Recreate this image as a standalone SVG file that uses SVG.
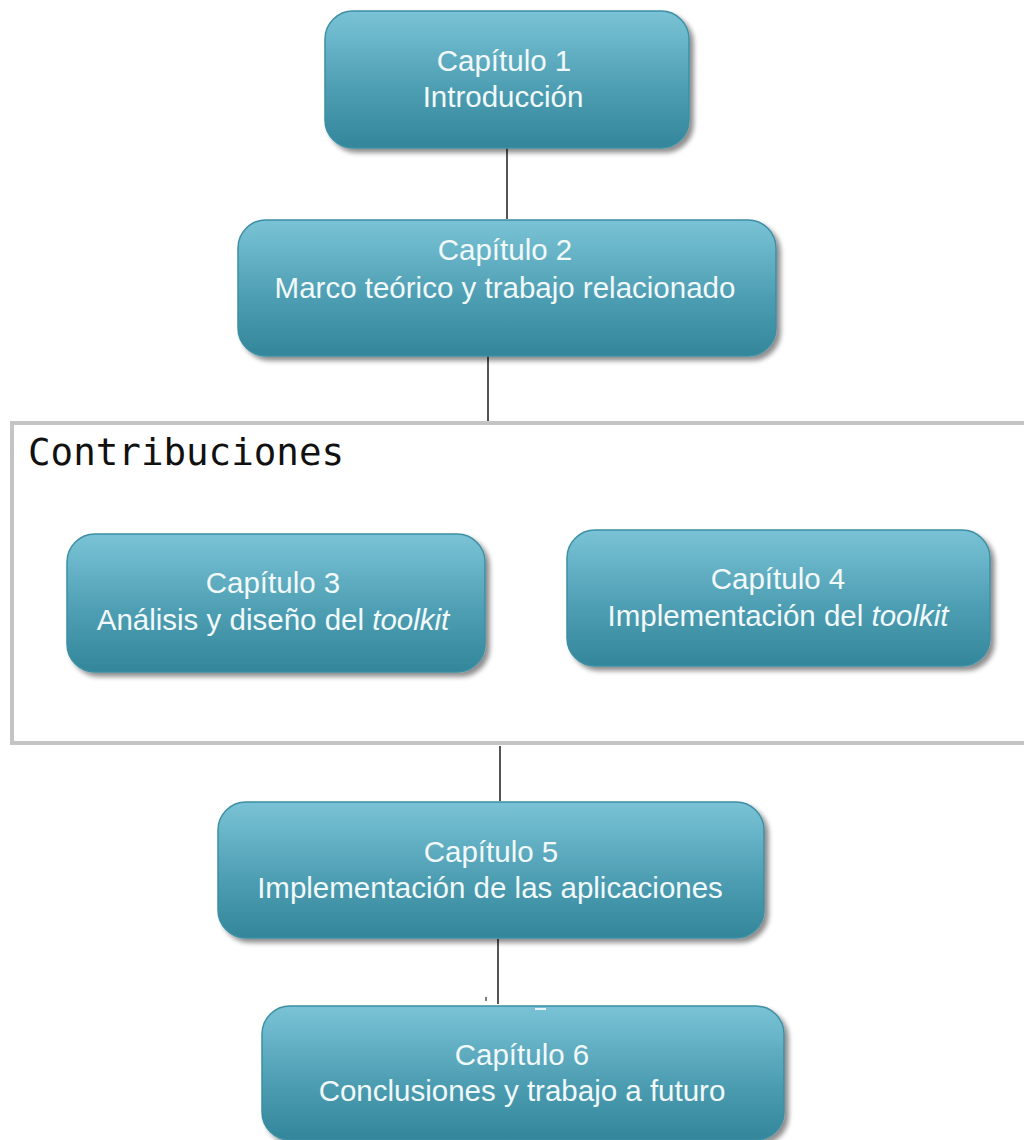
<svg xmlns="http://www.w3.org/2000/svg" width="1024" height="1140" viewBox="0 0 1024 1140">
  <defs>
    <linearGradient id="boxFill" x1="0" y1="0" x2="0" y2="1">
      <stop offset="0" stop-color="#7ac3d6"/>
      <stop offset="0.55" stop-color="#4f9fb4"/>
      <stop offset="1" stop-color="#33869a"/>
    </linearGradient>
    <filter id="shadow" x="-5%" y="-10%" width="115%" height="130%">
      <feGaussianBlur in="SourceAlpha" stdDeviation="2.5"/>
      <feOffset dx="4" dy="4" result="blur"/>
      <feComponentTransfer><feFuncA type="linear" slope="0.45"/></feComponentTransfer>
      <feMerge><feMergeNode/><feMergeNode in="SourceGraphic"/></feMerge>
    </filter>
  </defs>
  <style>
    .box { fill: url(#boxFill); stroke: #3d8fa4; stroke-width: 1.5; filter: url(#shadow); }
    .lbl { font-family: "Liberation Sans", Arial, sans-serif; font-size: 29.5px; fill: #f2f9fa; text-anchor: middle; }
    .it { font-style: italic; }
    .conn { stroke: #555555; stroke-width: 2; fill: none; }
    .frame { fill: none; stroke: #c4c4c4; stroke-width: 4; }
    .title { font-family: "DejaVu Sans Mono", "Liberation Mono", monospace; font-size: 37.5px; fill: #111111; }
  </style>

  <rect width="1024" height="1140" fill="#ffffff"/>

  <!-- connectors between chapters -->
  <g id="connectors">
    <line class="conn" x1="507" y1="148" x2="507" y2="219"/>
    <line class="conn" x1="488" y1="356" x2="488" y2="421"/>
    <line class="conn" x1="500" y1="746" x2="500" y2="801"/>
    <line class="conn" x1="498" y1="939" x2="498" y2="1004"/>
    <line stroke="#555555" stroke-width="1.5" x1="486" y1="997" x2="486" y2="1001"/>
  </g>

  <!-- contributions frame -->
  <g id="contribuciones">
    <rect class="frame" x="12" y="423" width="1030" height="320"/>
    <text class="title" x="28" y="465">Contribuciones</text>
  </g>

  <g id="cap1">
    <rect class="box" x="325" y="11" width="364" height="137" rx="28"/>
    <text class="lbl" x="504" y="71">Capítulo 1</text>
    <text class="lbl" x="503" y="107">Introducción</text>
  </g>

  <g id="cap2">
    <rect class="box" x="238" y="220" width="538" height="136" rx="28"/>
    <text class="lbl" x="505" y="260">Capítulo 2</text>
    <text class="lbl" x="505" y="298">Marco teórico y trabajo relacionado</text>
  </g>

  <g id="cap3">
    <rect class="box" x="67" y="534" width="418" height="138" rx="28"/>
    <text class="lbl" x="273" y="593">Capítulo 3</text>
    <text class="lbl" x="273" y="630">Análisis y diseño del <tspan class="it">toolkit</tspan></text>
  </g>

  <g id="cap4">
    <rect class="box" x="567" y="530" width="423" height="136" rx="28"/>
    <text class="lbl" x="778" y="589">Capítulo 4</text>
    <text class="lbl" x="778" y="626">Implementación del <tspan class="it">toolkit</tspan></text>
  </g>

  <g id="cap5">
    <rect class="box" x="218" y="802" width="546" height="136" rx="28"/>
    <text class="lbl" x="491" y="862">Capítulo 5</text>
    <text class="lbl" x="490" y="898">Implementación de las aplicaciones</text>
  </g>

  <g id="cap6">
    <rect class="box" x="262" y="1006" width="522" height="134" rx="28"/>
    <text class="lbl" x="522" y="1065">Capítulo 6</text>
    <text class="lbl" x="522" y="1101">Conclusiones y trabajo a futuro</text>
    <line stroke="#e8f4f7" stroke-width="2" x1="535" y1="1009" x2="546" y2="1009"/>
  </g>
</svg>
